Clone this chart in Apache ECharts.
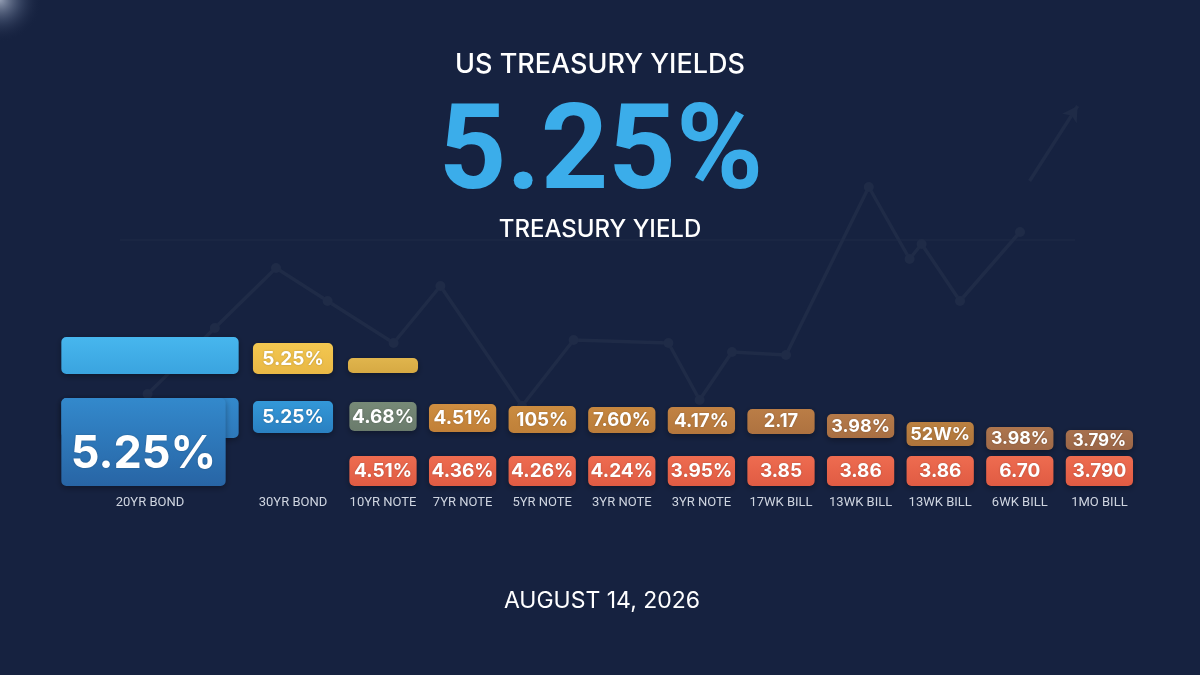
<!DOCTYPE html>
<html><head><meta charset="utf-8">
<script src="https://cdn.jsdelivr.net/npm/echarts@6/dist/echarts.min.js"></script>
<style>html,body{margin:0;padding:0;background:#162240}#c{width:1200px;height:675px}</style>
</head><body><div id="c"></div>
<script>
// ---------------- DATA ----------------
const heroCategories = ['20YR BOND', '30YR BOND'];
const curveCategories = ['10YR NOTE', '7YR NOTE', '5YR NOTE', '3YR NOTE', '3YR NOTE', '17WK BILL', '13WK BILL', '13WK BILL', '6WK BILL', '1MO BILL'];

// hero columns (20YR, 30YR) — upper row
const heroTopLabels = ['', '5.25%'];
const heroTopHigh = [74.5, 71.5];
const heroTopLow = [56, 56];
// hero columns — main row
const heroMainLabels = ['5.25%', '5.25%'];
const heroMainHigh = [44, 42.5];
const heroMainLow = [0, 26.5];

// curve columns — upper small bar (10YR only)
const curveTopLabels = [''];
const curveTopHigh = [64];
const curveTopLow = [56.5];
// curve columns — middle row
const curveMidLabels = ['4.68%', '4.51%', '105%', '7.60%', '4.17%', '2.17', '3.98%', '52W%', '3.98%', '3.79%'];
const curveMidHigh = [42, 41, 40, 39.5, 39.5, 38.5, 36, 32, 29.5, 28];
const curveMidLow = [27.5, 27, 26.5, 26.5, 26, 26, 24, 20, 18, 18];
// curve columns — lower row
const curveLowLabels = ['4.51%', '4.36%', '4.26%', '4.24%', '3.95%', '3.85', '3.86', '3.86', '6.70', '3.790'];
const curveLowHigh = [15, 15, 15, 15, 15, 15, 15, 15, 15, 15];
const curveLowLow = [0, 0, 0, 0, 0, 0, 0, 0, 0, 0];

// background trend line
const trendX = [12.3, 17.9, 23.0, 27.3, 32.8, 36.7, 43.5, 47.8, 55.7, 58.3, 61.0, 65.5, 72.4, 75.8, 76.8, 80.0, 85.0];
const trendY = [1.2, 3.4, 5.4, 4.3, 2.9, 4.8, 0.8, 3.0, 2.9, 1.0, 2.6, 2.5, 8.1, 5.7, 6.2, 4.3, 6.6];
const arrowX = [85.8, 89.8];
const arrowY = [8.3, 10.8];

// ---------------- STYLE ----------------
const BG = '#162240';
const FONT = 'Inter, Roboto, "Noto Sans", sans-serif';
const HERO_FONT = 'Roboto, Inter, "Noto Sans", sans-serif';
const LABEL_FONT = 'Roboto, "Noto Sans", sans-serif';
const TREND = '#1f2b47';
const heroTopColors = [['#47b6ee', '#3aa4df'], ['#f3c750', '#e9b845']];
const heroMainColors = [['#3389cc', '#2865a5'], ['#3398d8', '#2a80c1']];
const curveTopColors = [['#e0b54d', '#d6a943']];
const curveMidColors = [
  ['#778a77', '#6a7b6c'], ['#cf8e40', '#c18038'], ['#cb8c40', '#bf8039'], ['#c6873f', '#ba7c3a'],
  ['#c18243', '#b5773d'], ['#ba7d46', '#ae7240'], ['#b57a49', '#a96f43'], ['#bb8141', '#ae743b'],
  ['#ad754e', '#a06a48'], ['#a8714e', '#9b6647']
];
const curveLowColors = curveLowLabels.map(() => ['#ee6c50', '#e05b43']);

function makeBoxRender(spec) {
  return function (params, api) {
    const idx = params.dataIndex;
    const cat = api.value(0);
    const pLow = api.coord([cat, api.value(1)]);
    const pHigh = api.coord([cat, api.value(2)]);
    const band = api.size([1, 0])[0];
    const frac = Array.isArray(spec.widthFrac) ? spec.widthFrac[idx] : spec.widthFrac;
    const w = band * frac;
    const x0 = pLow[0] - w / 2;
    const top = pHigh[1], bottom = pLow[1];
    const h = bottom - top;
    const c = spec.colors[idx];
    const fill = new echarts.graphic.LinearGradient(0, top, 0, bottom,
      [{ offset: 0, color: c[0] }, { offset: 1, color: c[1] }], true);
    const label = spec.labels[idx];
    const shadow = { shadowBlur: 6, shadowColor: 'rgba(0,0,0,0.35)', shadowOffsetY: 2 };
    const children = [];
    let tx = x0 + w / 2, ty = top + h / 2 + 0.5, fs = spec.fontSize(h);
    if (spec.notch && idx === 0) {
      const split = api.coord([cat, spec.notchLevel])[1];
      children.push({ type: 'rect', shape: { x: x0, y: top, width: w, height: split - top, r: 5 }, style: Object.assign({ fill }, shadow) });
      children.push({ type: 'rect', shape: { x: x0, y: top, width: w - spec.notch, height: h, r: 5 }, style: Object.assign({ fill }, shadow) });
      tx = x0 + (w - spec.notch) / 2;
      ty = top + h * 0.64;
      fs = spec.heroFont;
    } else {
      children.push({ type: 'rect', shape: { x: x0, y: top, width: w, height: h, r: 5 }, style: Object.assign({ fill }, shadow) });
    }
    if (label) {
      children.push({
        type: 'text', x: tx, y: ty,
        style: { text: label, fill: '#ffffff', fontSize: fs, fontWeight: 'bold', fontFamily: FONT, align: 'center', verticalAlign: 'middle',
          textShadowBlur: 2, textShadowColor: 'rgba(0,0,0,0.25)' }
      });
    }
    return { type: 'group', children };
  };
}

function toData(high, low) { return high.map((v, i) => [i, low[i], v]); }

const catAxisCommon = {
  type: 'category', boundaryGap: true,
  axisLine: { show: false }, axisTick: { show: false }, splitLine: { show: false },
  axisLabel: { interval: 0, color: '#cfd5e0', fontSize: 13, margin: 10, fontFamily: LABEL_FONT }
};
const valAxisHidden = { type: 'value', min: 0, max: 80, show: false };

const chart = echarts.init(document.getElementById('c'));
chart.setOption({
  backgroundColor: BG,
  animation: false,
  grid: [
    { left: 0, top: 100, width: 1200, height: 330 },
    { left: 78.5, top: 326, width: 286, height: 160 },
    { left: 343.2, top: 326, width: 796, height: 160 }
  ],
  xAxis: [
    { gridIndex: 0, type: 'value', min: 0, max: 100, show: false },
    Object.assign({ gridIndex: 1, data: heroCategories }, catAxisCommon),
    Object.assign({ gridIndex: 2, data: curveCategories }, catAxisCommon)
  ],
  yAxis: [
    { gridIndex: 0, type: 'value', min: 0, max: 11, show: false },
    Object.assign({ gridIndex: 1 }, valAxisHidden),
    Object.assign({ gridIndex: 2 }, valAxisHidden)
  ],
  graphic: [
    { type: 'circle', shape: { cx: 0, cy: 0, r: 42 }, silent: true, z: -1,
      style: { fill: new echarts.graphic.RadialGradient(0.5, 0.5, 0.5, [
        { offset: 0, color: 'rgba(200,210,228,0.7)' }, { offset: 0.5, color: 'rgba(120,135,165,0.3)' }, { offset: 1, color: 'rgba(22,34,64,0)' }]) } },
    { type: 'line', shape: { x1: 120, y1: 240, x2: 1075, y2: 240 }, silent: true, z: -1,
      style: { stroke: 'rgba(255,255,255,0.04)', lineWidth: 1 } },
    { type: 'text', x: 600, y: 65, silent: true,
      style: { text: 'US TREASURY YIELDS', fill: '#ffffff', fontSize: 27, fontWeight: 500, fontFamily: FONT, align: 'center', verticalAlign: 'middle' } },
    { type: 'text', x: 601, y: 158, silent: true,
      style: { text: '5.25%', fill: '#3badea', fontSize: 118, fontWeight: 'bold', fontFamily: HERO_FONT, align: 'center', verticalAlign: 'middle' } },
    { type: 'text', x: 600, y: 230, silent: true,
      style: { text: 'TREASURY YIELD', fill: '#ffffff', fontSize: 24, fontWeight: 500, fontFamily: FONT, align: 'center', verticalAlign: 'middle' } },
    { type: 'text', x: 602, y: 601, silent: true,
      style: { text: 'AUGUST 14, 2026', fill: '#ffffff', fontSize: 23, fontWeight: 'normal', fontFamily: FONT, align: 'center', verticalAlign: 'middle' } }
  ],
  series: [
    { type: 'line', xAxisIndex: 0, yAxisIndex: 0, silent: true, z: 1,
      data: trendX.map((x, i) => [x, trendY[i]]),
      lineStyle: { color: TREND, width: 3.5 }, itemStyle: { color: TREND },
      symbol: 'circle', symbolSize: 10 },
    { type: 'line', xAxisIndex: 0, yAxisIndex: 0, silent: true, z: 1,
      data: [{ value: [arrowX[0], arrowY[0]], symbol: 'none' },
             { value: [arrowX[1], arrowY[1]], symbol: 'arrow', symbolSize: [13, 15], symbolRotate: -33 }],
      lineStyle: { color: TREND, width: 3.5 }, itemStyle: { color: TREND } },
    { type: 'custom', xAxisIndex: 1, yAxisIndex: 1, z: 5, data: toData(heroTopHigh, heroTopLow),
      renderItem: makeBoxRender({ widthFrac: [1.24, 0.56], colors: heroTopColors, labels: heroTopLabels, fontSize: () => 19 }) },
    { type: 'custom', xAxisIndex: 1, yAxisIndex: 1, z: 5, data: toData(heroMainHigh, heroMainLow),
      renderItem: makeBoxRender({ widthFrac: [1.24, 0.56], colors: heroMainColors, labels: heroMainLabels, fontSize: () => 19,
        notch: 13, notchLevel: 24, heroFont: 45 }) },
    { type: 'custom', xAxisIndex: 2, yAxisIndex: 2, z: 5, data: toData(curveTopHigh, curveTopLow),
      renderItem: makeBoxRender({ widthFrac: 0.88, colors: curveTopColors, labels: curveTopLabels, fontSize: () => 14 }) },
    { type: 'custom', xAxisIndex: 2, yAxisIndex: 2, z: 5, data: toData(curveMidHigh, curveMidLow),
      renderItem: makeBoxRender({ widthFrac: 0.845, colors: curveMidColors, labels: curveMidLabels, fontSize: (h) => Math.min(19, 11.5 + h * 0.27) }) },
    { type: 'custom', xAxisIndex: 2, yAxisIndex: 2, z: 5, data: toData(curveLowHigh, curveLowLow),
      renderItem: makeBoxRender({ widthFrac: 0.845, colors: curveLowColors, labels: curveLowLabels, fontSize: () => 19 }) }
  ]
});
</script></body></html>
